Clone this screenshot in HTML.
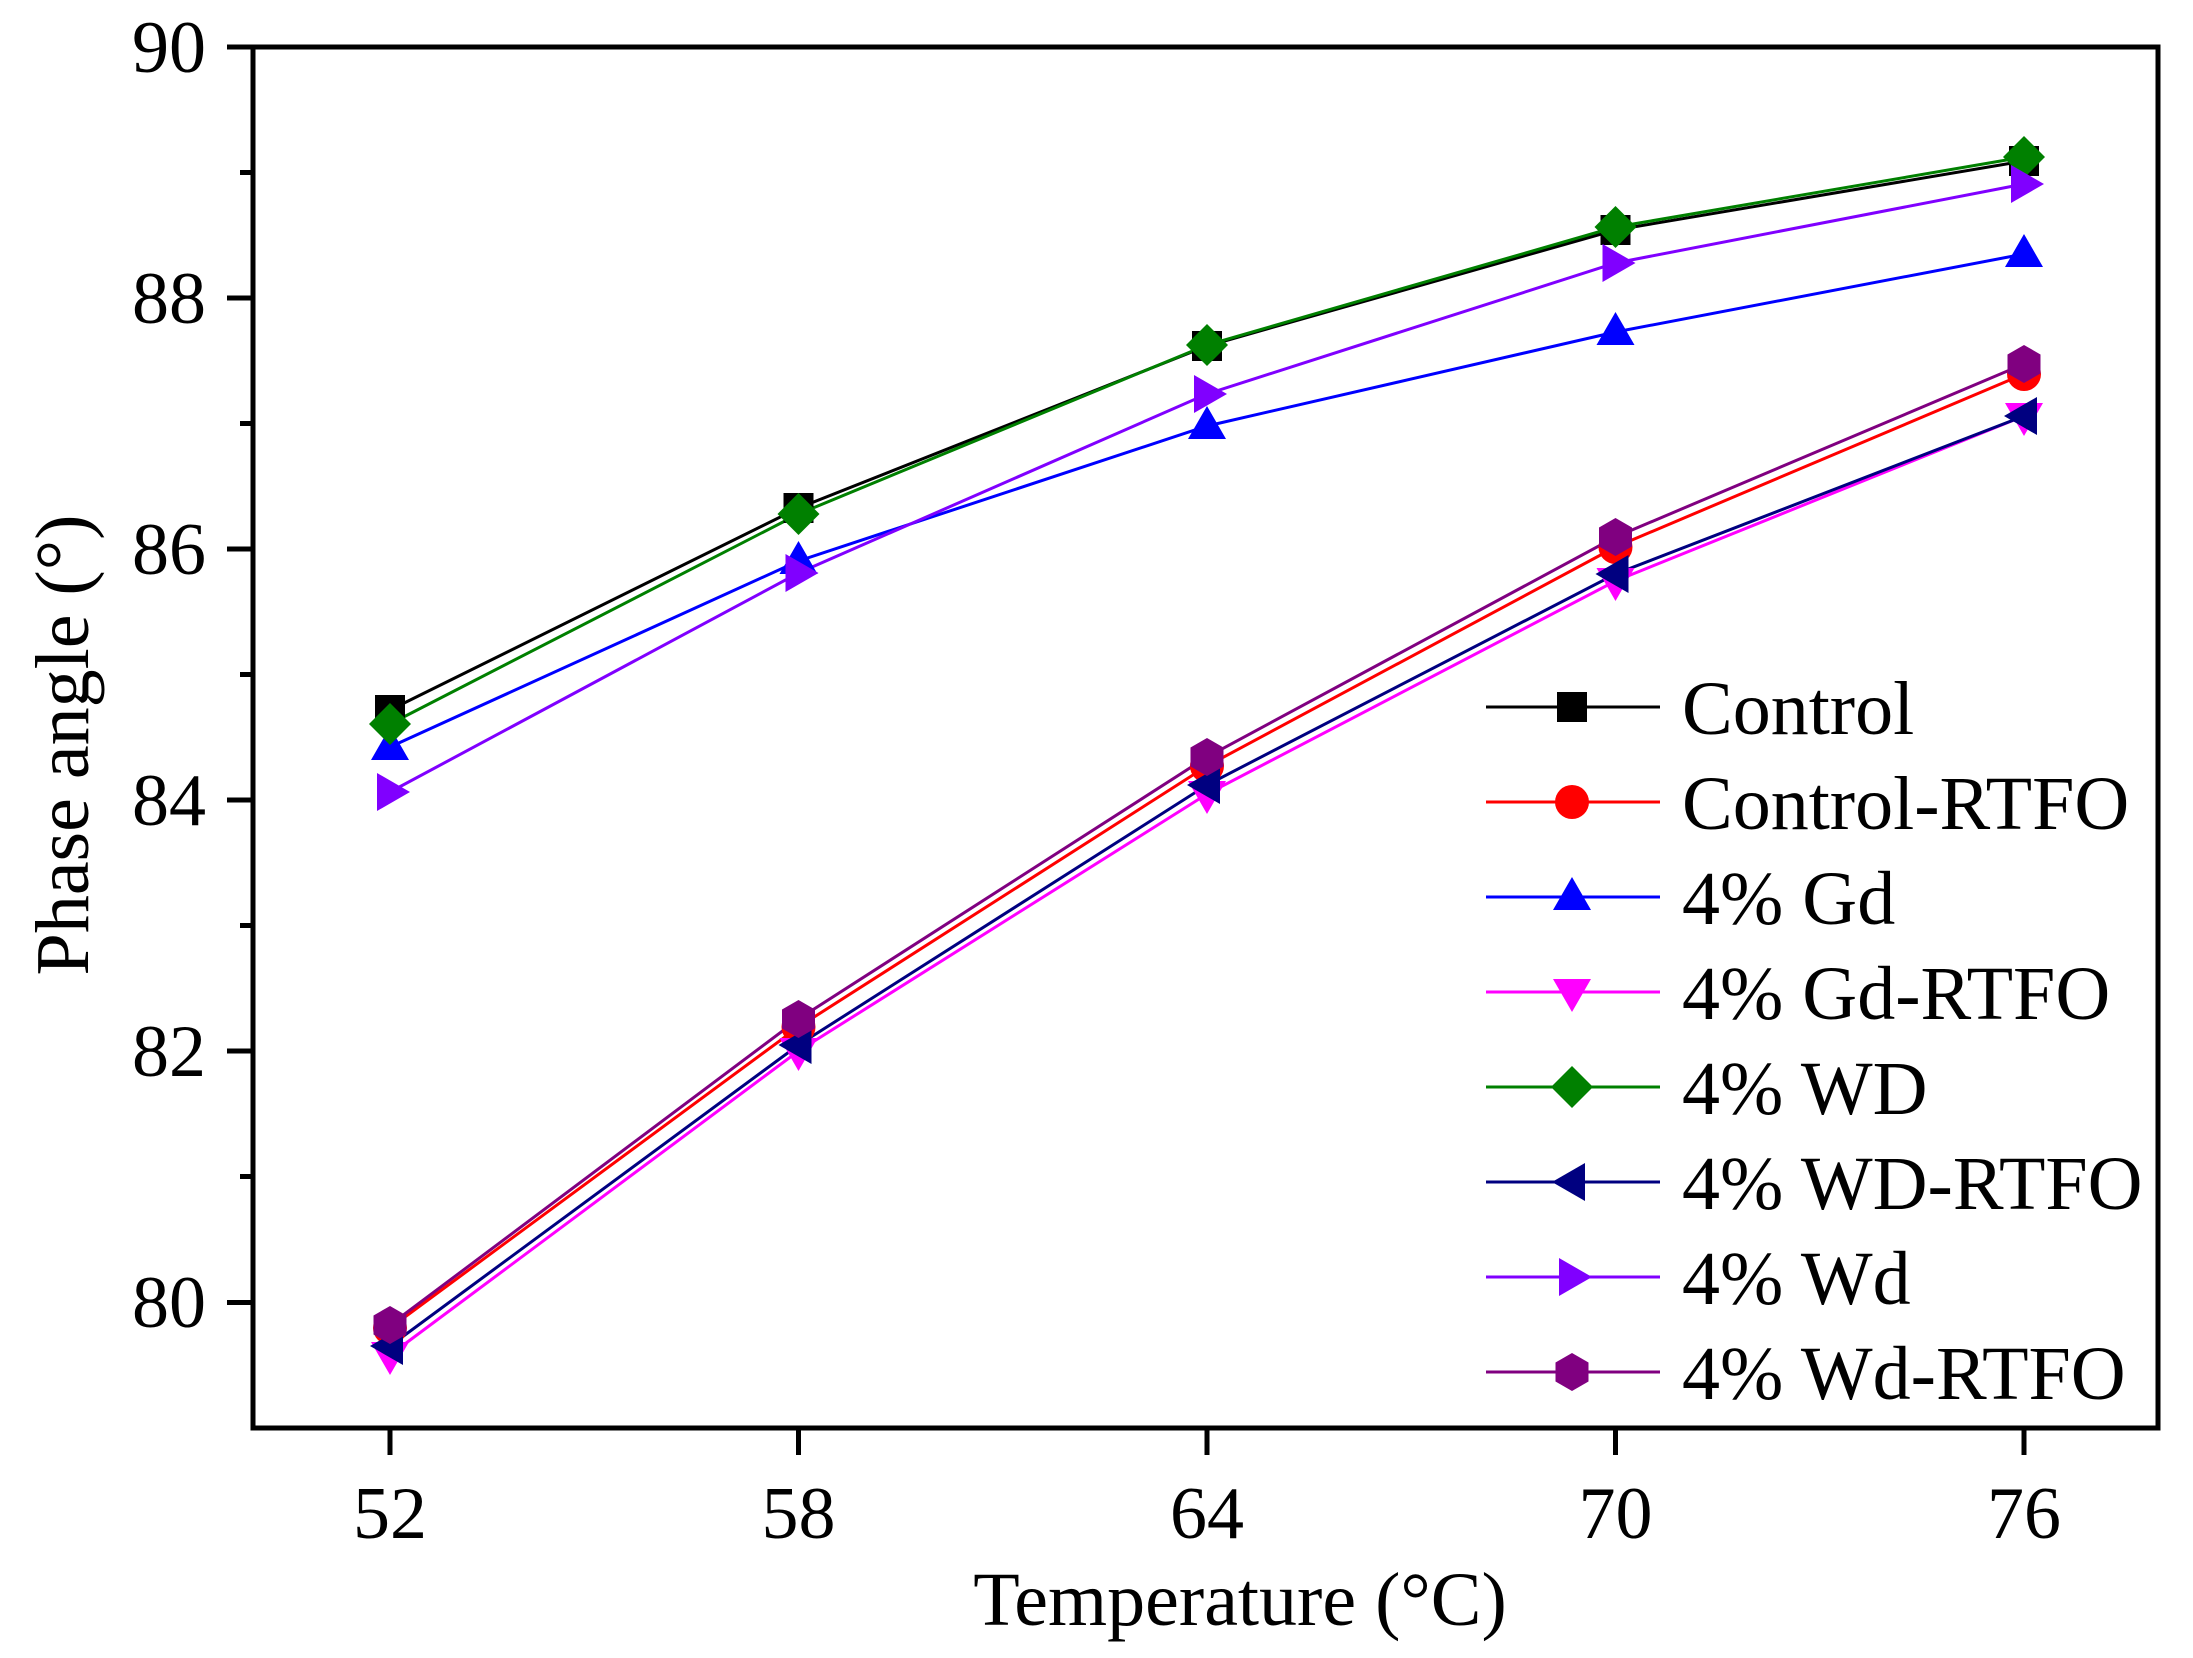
<!DOCTYPE html>
<html><head><meta charset="utf-8"><style>
html,body{margin:0;padding:0;background:#fff}
svg{display:block}
text{font-family:"Liberation Serif",serif;fill:#000}
</style></head><body>
<svg width="2193" height="1658" viewBox="0 0 2193 1658" xmlns="http://www.w3.org/2000/svg">
<defs>
<g id="sq"><rect x="-15" y="-15" width="30" height="30"/></g>
<g id="ci"><circle r="17"/></g>
<g id="tu"><polygon points="0,-20 19,13 -19,13"/></g>
<g id="td"><polygon points="0,20 19,-13 -19,-13"/></g>
<g id="di"><polygon points="0,-21 21,0 0,21 -21,0"/></g>
<g id="tl"><polygon points="-20,0 13,-19 13,19"/></g>
<g id="tr"><polygon points="20,0 -13,-19 -13,19"/></g>
<g id="hx"><polygon points="0,-19 16.5,-9.5 16.5,9.5 0,19 -16.5,9.5 -16.5,-9.5"/></g>
</defs>
<rect x="253" y="47" width="1905" height="1381" fill="none" stroke="#000" stroke-width="5"/>
<g stroke="#000" stroke-width="5">
<line x1="227" y1="47" x2="253" y2="47"/><line x1="227" y1="298" x2="253" y2="298"/><line x1="227" y1="549" x2="253" y2="549"/><line x1="227" y1="800" x2="253" y2="800"/><line x1="227" y1="1051" x2="253" y2="1051"/><line x1="227" y1="1302.5" x2="253" y2="1302.5"/>
<line x1="240" y1="172.5" x2="253" y2="172.5"/><line x1="240" y1="423.5" x2="253" y2="423.5"/><line x1="240" y1="674.5" x2="253" y2="674.5"/><line x1="240" y1="925.5" x2="253" y2="925.5"/><line x1="240" y1="1176.5" x2="253" y2="1176.5"/>
<line x1="390" y1="1428" x2="390" y2="1455"/><line x1="798.5" y1="1428" x2="798.5" y2="1455"/><line x1="1207" y1="1428" x2="1207" y2="1455"/><line x1="1615.5" y1="1428" x2="1615.5" y2="1455"/><line x1="2024" y1="1428" x2="2024" y2="1455"/>
</g>
<g font-size="74" text-anchor="end">
<text x="206" y="72">90</text><text x="206" y="323">88</text><text x="206" y="574">86</text><text x="206" y="825">84</text><text x="206" y="1076">82</text><text x="206" y="1327">80</text>
</g>
<g font-size="74" text-anchor="middle">
<text x="390" y="1538">52</text><text x="798.5" y="1538">58</text><text x="1207" y="1538">64</text><text x="1615.5" y="1538">70</text><text x="2024" y="1538">76</text>
</g>
<text x="1240" y="1625" font-size="76" text-anchor="middle">Temperature (°C)</text>
<text transform="translate(63,745) rotate(-90)" font-size="76" text-anchor="middle" dominant-baseline="central">Phase angle (°)</text>

<g fill="none" stroke-width="3">
<polyline stroke="#000" points="390,710 798.5,508 1207,346 1615.5,230 2024,161"/>
<polyline stroke="#f00" points="390,1328 798.5,1027 1207,766 1615.5,547 2024,374"/>
<polyline stroke="#00f" points="390,747 798.5,561 1207,426 1615.5,332 2024,254"/>
<polyline stroke="#f0f" points="390,1355 798.5,1051 1207,794 1615.5,581 2024,416"/>
<polyline stroke="#008000" points="390,724 798.5,514 1207,345 1615.5,227 2024,157"/>
<polyline stroke="#000080" points="390,1346 798.5,1045 1207,785 1615.5,574 2024,416"/>
<polyline stroke="#8000ff" points="390,792 798.5,573 1207,394 1615.5,263 2024,184"/>
<polyline stroke="#800080" points="390,1325 798.5,1019 1207,757 1615.5,537 2024,364"/>
</g>
<g fill="#000"><use href="#sq" x="390" y="710"/><use href="#sq" x="798.5" y="508"/><use href="#sq" x="1207" y="346"/><use href="#sq" x="1615.5" y="230"/><use href="#sq" x="2024" y="161"/></g>
<g fill="#f00"><use href="#ci" x="390" y="1328"/><use href="#ci" x="798.5" y="1027"/><use href="#ci" x="1207" y="766"/><use href="#ci" x="1615.5" y="547"/><use href="#ci" x="2024" y="374"/></g>
<g fill="#00f"><use href="#tu" x="390" y="747"/><use href="#tu" x="798.5" y="561"/><use href="#tu" x="1207" y="426"/><use href="#tu" x="1615.5" y="332"/><use href="#tu" x="2024" y="254"/></g>
<g fill="#f0f"><use href="#td" x="390" y="1355"/><use href="#td" x="798.5" y="1051"/><use href="#td" x="1207" y="794"/><use href="#td" x="1615.5" y="581"/><use href="#td" x="2024" y="416"/></g>
<g fill="#008000"><use href="#di" x="390" y="724"/><use href="#di" x="798.5" y="514"/><use href="#di" x="1207" y="345"/><use href="#di" x="1615.5" y="227"/><use href="#di" x="2024" y="157"/></g>
<g fill="#000080"><use href="#tl" x="390" y="1346"/><use href="#tl" x="798.5" y="1045"/><use href="#tl" x="1207" y="785"/><use href="#tl" x="1615.5" y="574"/><use href="#tl" x="2024" y="416"/></g>
<g fill="#8000ff"><use href="#tr" x="390" y="792"/><use href="#tr" x="798.5" y="573"/><use href="#tr" x="1207" y="394"/><use href="#tr" x="1615.5" y="263"/><use href="#tr" x="2024" y="184"/></g>
<g fill="#800080"><use href="#hx" x="390" y="1325"/><use href="#hx" x="798.5" y="1019"/><use href="#hx" x="1207" y="757"/><use href="#hx" x="1615.5" y="537"/><use href="#hx" x="2024" y="364"/></g>

<g stroke-width="3">
<line x1="1486" y1="707" x2="1660" y2="707" stroke="#000"/>
<line x1="1486" y1="802" x2="1660" y2="802" stroke="#f00"/>
<line x1="1486" y1="897" x2="1660" y2="897" stroke="#00f"/>
<line x1="1486" y1="992" x2="1660" y2="992" stroke="#f0f"/>
<line x1="1486" y1="1087" x2="1660" y2="1087" stroke="#008000"/>
<line x1="1486" y1="1182" x2="1660" y2="1182" stroke="#000080"/>
<line x1="1486" y1="1277" x2="1660" y2="1277" stroke="#8000ff"/>
<line x1="1486" y1="1372" x2="1660" y2="1372" stroke="#800080"/>
</g>
<use href="#sq" x="1572" y="707" fill="#000"/>
<use href="#ci" x="1572" y="802" fill="#f00"/>
<use href="#tu" x="1572" y="897" fill="#00f"/>
<use href="#td" x="1572" y="992" fill="#f0f"/>
<use href="#di" x="1572" y="1087" fill="#008000"/>
<use href="#tl" x="1572" y="1182" fill="#000080"/>
<use href="#tr" x="1572" y="1277" fill="#8000ff"/>
<use href="#hx" x="1572" y="1372" fill="#800080"/>
<g font-size="76">
<text x="1682" y="734">Control</text>
<text x="1682" y="829">Control-RTFO</text>
<text x="1682" y="924">4% Gd</text>
<text x="1682" y="1019">4% Gd-RTFO</text>
<text x="1682" y="1114">4% WD</text>
<text x="1682" y="1209">4% WD-RTFO</text>
<text x="1682" y="1304">4% Wd</text>
<text x="1682" y="1399">4% Wd-RTFO</text>
</g>
</svg>
</body></html>
